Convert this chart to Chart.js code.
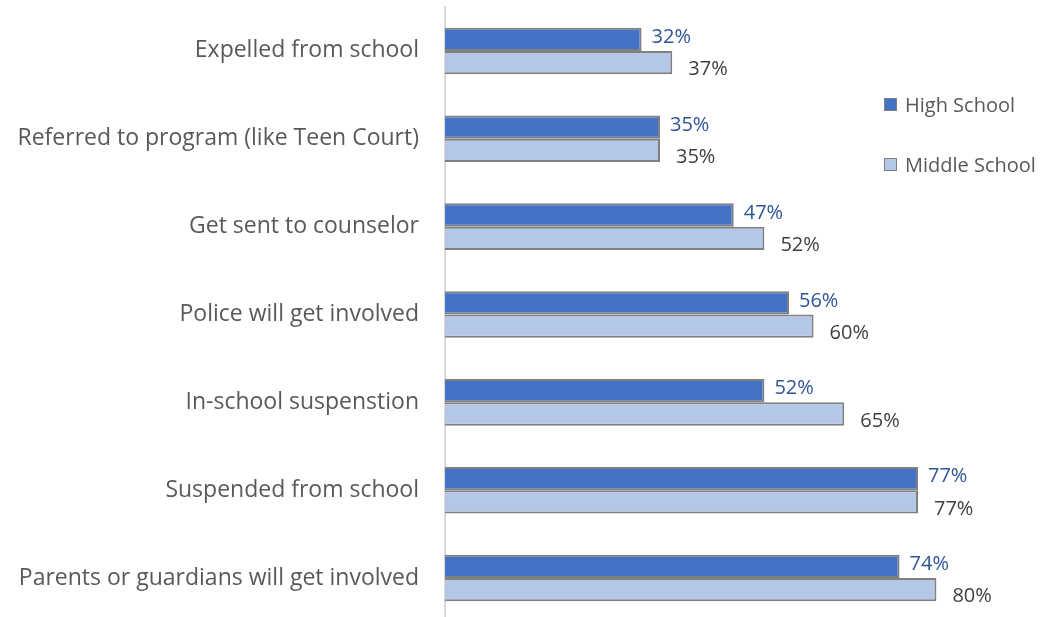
<!DOCTYPE html>
<html>
<head>
<meta charset="utf-8">
<script src="https://cdn.jsdelivr.net/npm/chart.js@4/dist/chart.umd.min.js"></script>
<style>
  html, body { margin: 0; padding: 0; background: #fff; overflow: hidden; }
  #wrap { position: relative; width: 1047px; height: 622px; }
  #legend { position: absolute; left: 884px; top: 89px; font-family: 'Open Sans', sans-serif; font-size: 20px; color: #595959; }
  #legend div { display: flex; align-items: center; height: 30px; margin-bottom: 30px; white-space: nowrap; }
  #legend span.sw { display: inline-block; box-sizing: border-box; width: 13px; height: 13px; border: 1.5px solid #7f7f7f; margin-right: 8px; }
</style>
</head>
<body>
<div id="wrap">
  <canvas id="chart" width="1047" height="622"></canvas>
  <div id="legend"></div>
</div>
<script>
// Consequences students expect, by school level (percent)
const categories = [
  'Expelled from school',
  'Referred to program (like Teen Court)',
  'Get sent to counselor',
  'Police will get involved',
  'In-school suspenstion',
  'Suspended from school',
  'Parents or guardians will get involved',
];
const seriesNames = ['High School', 'Middle School'];
const highSchool   = [32, 35, 47, 56, 52, 77, 74];
const middleSchool = [37, 35, 52, 60, 65, 77, 80];

const fills   = ['#4472C4', '#B4C7E7'];
const labelColors = ['#2F5597', '#404040'];

// value labels at the end of each bar
const barLabels = {
  id: 'barLabels',
  afterDatasetsDraw(chart) {
    const { ctx } = chart;
    ctx.save();
    ctx.font = '20px "Open Sans", sans-serif';
    ctx.textAlign = 'left';
    ctx.textBaseline = 'middle';
    chart.data.datasets.forEach((ds, i) => {
      const meta = chart.getDatasetMeta(i);
      ctx.fillStyle = labelColors[i];
      const dx = i === 0 ? 10 : 16;
      const dy = i === 0 ? -2 : 7;
      meta.data.forEach((bar, j) => {
        ctx.fillText(ds.data[j] + '%', bar.x + dx, bar.y + dy);
      });
    });
    ctx.restore();
  },
};

new Chart(document.getElementById('chart'), {
  type: 'bar',
  data: {
    labels: categories,
    datasets: [
      { label: seriesNames[0], data: highSchool, backgroundColor: fills[0] },
      { label: seriesNames[1], data: middleSchool, backgroundColor: fills[1] },
    ].map(d => ({ ...d, borderColor: '#808080', borderWidth: 2, borderSkipped: 'start',
                  categoryPercentage: 0.53, barPercentage: 1 })),
  },
  options: {
    indexAxis: 'y',
    responsive: false,
    animation: false,
    layout: { padding: { top: 7, right: 0, bottom: 0, left: 0 } },
    plugins: { legend: { display: false }, tooltip: { enabled: false } },
    scales: {
      x: { display: false, min: 0, max: 98 },
      y: {
        // fixed axis width, and no extra room above/below the category band
        afterFit: s => { s.width = 445; s.paddingTop = 0; s.paddingBottom = 0; },
        grid: { display: false, drawTicks: false },
        border: { display: true, color: '#D9D9D9', width: 2 },
        ticks: { color: '#595959', padding: 26, font: { family: 'Open Sans', size: 23 } },
      },
    },
  },
  plugins: [barLabels],
});

// legend on the right
const legend = document.getElementById('legend');
seriesNames.forEach((name, i) => {
  const row = document.createElement('div');
  row.innerHTML = '<span class="sw" style="background:' + fills[i] + '"></span>' + name;
  legend.appendChild(row);
});
</script>
</body>
</html>
